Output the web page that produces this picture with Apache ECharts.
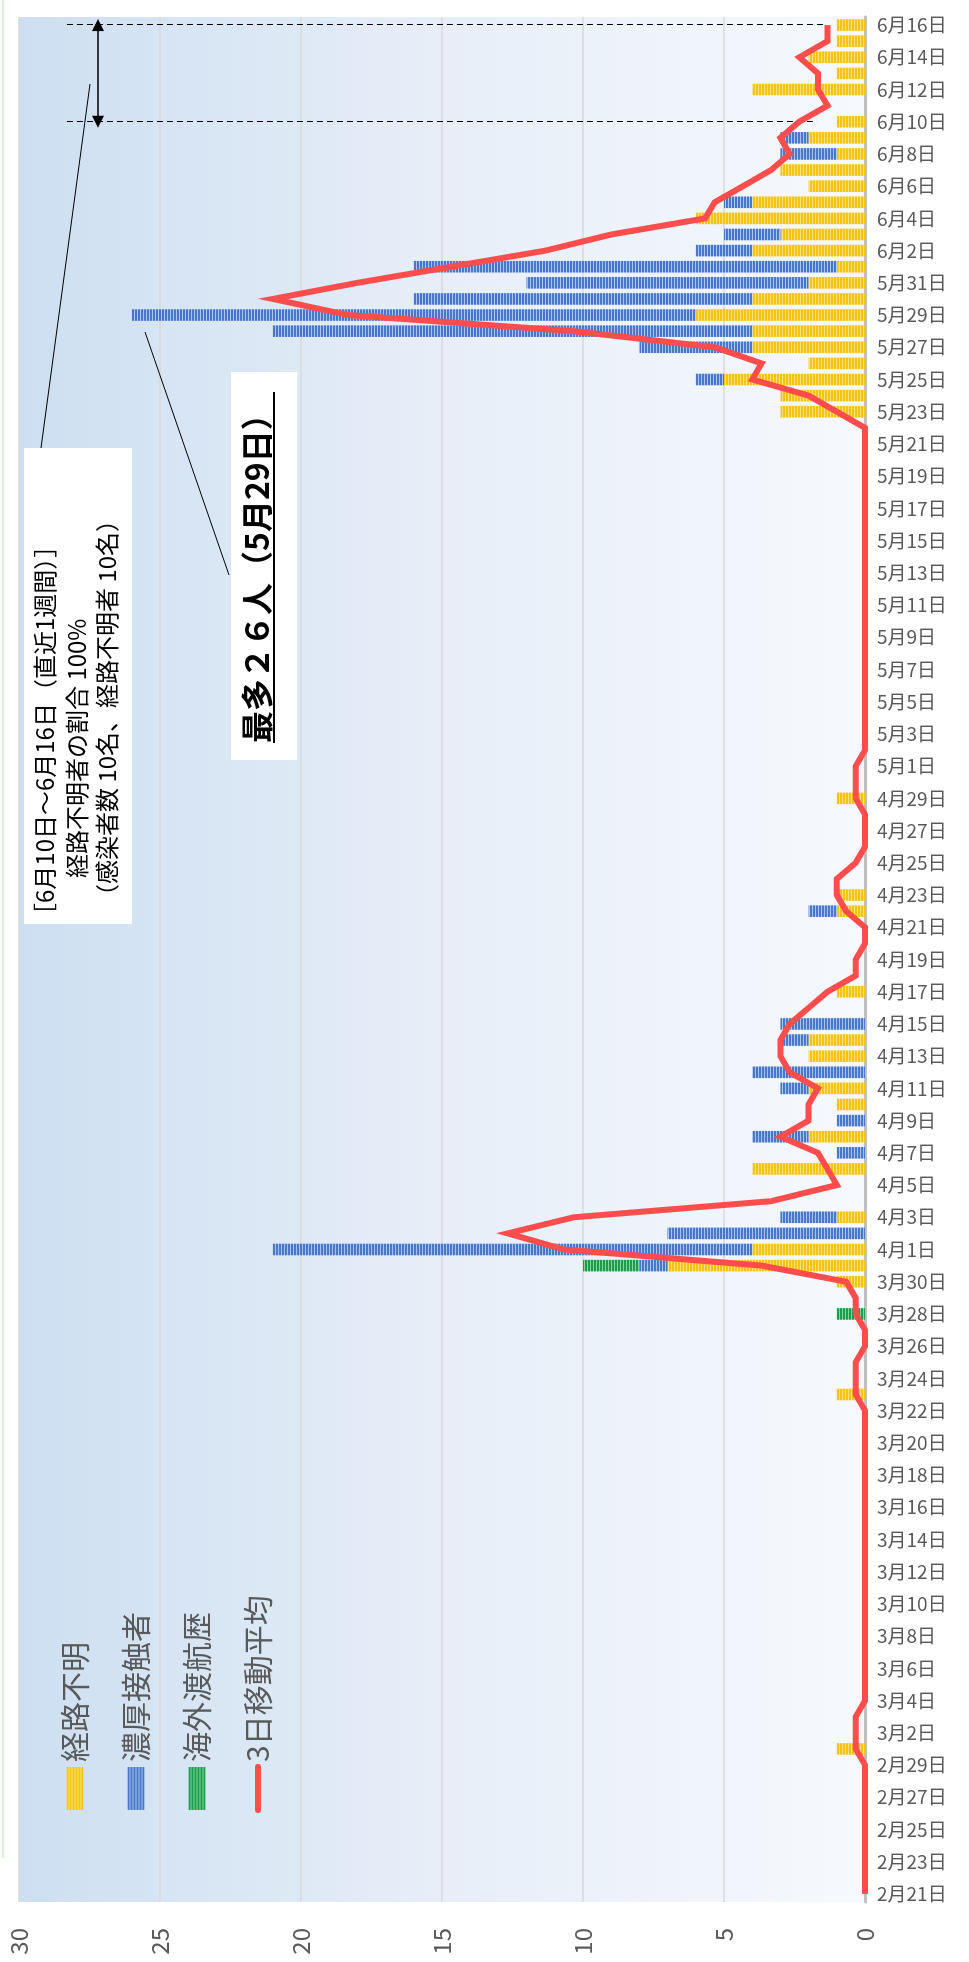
<!DOCTYPE html>
<html>
<head>
<meta charset="utf-8">
<script src="https://cdn.jsdelivr.net/npm/echarts@6/dist/echarts.min.js"></script>
<style>
html,body{margin:0;padding:0;background:#fff;overflow:hidden;width:969px;height:1962px;}
#wrap{position:absolute;left:0;top:0;width:1962px;height:969px;transform-origin:0 0;transform:translateY(1962px) rotate(-90deg);}
#chart{width:1962px;height:969px;}
</style>
</head>
<body>
<div id="wrap"><div id="chart"></div></div>
<script>
// ---- categories ----
const dates = [
 '2月21日','2月22日','2月23日','2月24日','2月25日','2月26日','2月27日','2月28日','2月29日',
 '3月1日','3月2日','3月3日','3月4日','3月5日','3月6日','3月7日','3月8日','3月9日','3月10日',
 '3月11日','3月12日','3月13日','3月14日','3月15日','3月16日','3月17日','3月18日','3月19日','3月20日',
 '3月21日','3月22日','3月23日','3月24日','3月25日','3月26日','3月27日','3月28日','3月29日','3月30日','3月31日',
 '4月1日','4月2日','4月3日','4月4日','4月5日','4月6日','4月7日','4月8日','4月9日','4月10日',
 '4月11日','4月12日','4月13日','4月14日','4月15日','4月16日','4月17日','4月18日','4月19日','4月20日',
 '4月21日','4月22日','4月23日','4月24日','4月25日','4月26日','4月27日','4月28日','4月29日','4月30日',
 '5月1日','5月2日','5月3日','5月4日','5月5日','5月6日','5月7日','5月8日','5月9日','5月10日',
 '5月11日','5月12日','5月13日','5月14日','5月15日','5月16日','5月17日','5月18日','5月19日','5月20日',
 '5月21日','5月22日','5月23日','5月24日','5月25日','5月26日','5月27日','5月28日','5月29日','5月30日','5月31日',
 '6月1日','6月2日','6月3日','6月4日','6月5日','6月6日','6月7日','6月8日','6月9日','6月10日',
 '6月11日','6月12日','6月13日','6月14日','6月15日','6月16日'
];

// ---- series values ----
// 経路不明
const unknownRoute = [
 0,0,0,0,0,0,0,0,0,
 1,0,0,0,0,0,0,0,0,0, 0,0,0,0,0,0,0,0,0,0, 0,0,1,0,0,0,0,0,0,1,7,
 4,0,1,0,0,4,0,2,0,1, 2,0,2,2,0,0,1,0,0,0, 0,1,1,0,0,0,0,0,1,0,
 0,0,0,0,0,0,0,0,0,0, 0,0,0,0,0,0,0,0,0,0, 0,0,3,3,5,2,4,4,6,4,2,
 1,4,3,6,4,2,3,1,2,1, 0,4,1,2,1,1
];
// 濃厚接触者
const closeContact = [
 0,0,0,0,0,0,0,0,0,
 0,0,0,0,0,0,0,0,0,0, 0,0,0,0,0,0,0,0,0,0, 0,0,0,0,0,0,0,0,0,0,1,
 17,7,2,0,0,0,1,2,1,0, 1,4,0,1,3,0,0,0,0,0, 0,1,0,0,0,0,0,0,0,0,
 0,0,0,0,0,0,0,0,0,0, 0,0,0,0,0,0,0,0,0,0, 0,0,0,0,1,0,4,17,20,12,10,
 15,2,2,0,1,0,0,2,1,0, 0,0,0,0,0,0
];
// 海外渡航歴
const overseas = [
 0,0,0,0,0,0,0,0,0,
 0,0,0,0,0,0,0,0,0,0, 0,0,0,0,0,0,0,0,0,0, 0,0,0,0,0,0,0,1,0,0,2,
 0,0,0,0,0,0,0,0,0,0, 0,0,0,0,0,0,0,0,0,0, 0,0,0,0,0,0,0,0,0,0,
 0,0,0,0,0,0,0,0,0,0, 0,0,0,0,0,0,0,0,0,0, 0,0,0,0,0,0,0,0,0,0,0,
 0,0,0,0,0,0,0,0,0,0, 0,0,0,0,0,0
];
// 3日移動平均
const movingAvg3 = [
 0,0,0,0,0,0,0,0,0,
 0.33,0.33,0.33,0,0,0,0,0,0,0, 0,0,0,0,0,0,0,0,0,0, 0,0,0.33,0.33,0.33,0,0,0.33,0.33,0.67,3.67,
 10.67,12.67,10.33,3.33,1,1.33,1.67,3,2,2, 1.67,2.67,3,3,2.67,2,1.33,0.33,0.33,0, 0,0.67,1,1,0.33,0,0,0,0.33,0.33,
 0.33,0,0,0,0,0,0,0,0,0, 0,0,0,0,0,0,0,0,0,0, 0,0,1,2,4,3.67,5.33,10.33,18.33,21,18,
 14.67,11.33,9,5.67,5.33,4.33,3.33,2.67,3,2.33, 1.33,1.67,1.67,2.33,1.33,1.33
];
const seriesNames = ['経路不明','濃厚接触者','海外渡航歴','3日移動平均'];
const valueMin = 0, valueMax = 30, valueStep = 5;
const weekStart = '6月10日', weekEnd = '6月16日';

function stripe(main, light) {
  const c = document.createElement('canvas');
  c.width = 4; c.height = 3;
  const g = c.getContext('2d');
  g.fillStyle = main; g.fillRect(0, 0, 4, 3);
  g.fillStyle = light; g.fillRect(0, 2, 4, 1);
  return { image: c, repeat: 'repeat' };
}
const yellowPat = stripe('#f5c312', '#fbe27e');
const bluePat = stripe('#4a78c9', '#a7c3ee');
const greenPat = stripe('#1d9d4c', '#80d89e');

const FONT = '"Noto Sans CJK JP", "Noto Sans", sans-serif';
const chart = echarts.init(document.getElementById('chart'), null, { renderer: 'canvas' });

const barCommon = { type: 'bar', stack: 'total', barCategoryGap: '28%', silent: true, emphasis: { disabled: true } };

chart.setOption({
  animation: false,
  textStyle: { fontFamily: FONT },
  grid: {
    left: 60, right: 17, top: 19, bottom: 104,
    show: true, borderWidth: 0,
    backgroundColor: new echarts.graphic.LinearGradient(0, 0, 0, 1, [
      { offset: 0, color: '#cddff1' },
      { offset: 0.5, color: '#e7eef8' },
      { offset: 1, color: '#f6f9fd' }
    ])
  },
  legend: {
    data: [
      { name: seriesNames[0], icon: 'rect' },
      { name: seriesNames[1], icon: 'rect' },
      { name: seriesNames[2], icon: 'rect' },
      { name: seriesNames[3], itemStyle: { opacity: 0 }, lineStyle: { width: 6, cap: 'round', color: '#ff4d4d' } }
    ],
    orient: 'vertical', left: 144, top: 55,
    itemWidth: 43, itemHeight: 17, itemGap: 31,
    selectedMode: false,
    textStyle: { fontSize: 30, lineHeight: 30, color: '#595959', fontFamily: FONT }
  },
  xAxis: {
    type: 'category', data: dates,
    axisLine: { show: true, lineStyle: { color: '#bfbfbf', width: 3 } },
    axisTick: { show: false },
    axisLabel: { interval: 1, rotate: -90, margin: 12, fontSize: 19, color: '#595959', fontFamily: FONT, padding: [0, 0, 10, 0] },
    splitLine: { show: false }
  },
  yAxis: {
    type: 'value', min: valueMin, max: valueMax, interval: valueStep,
    axisLine: { show: false }, axisTick: { show: false },
    axisLabel: { fontSize: 24, color: '#595959', margin: 26, fontFamily: FONT },
    splitLine: { lineStyle: { color: '#d9d9d9', width: 1.5 } }
  },
  series: [
    Object.assign({ name: seriesNames[0], data: unknownRoute, itemStyle: { color: yellowPat } }, barCommon),
    Object.assign({ name: seriesNames[1], data: closeContact, itemStyle: { color: bluePat } }, barCommon),
    Object.assign({ name: seriesNames[2], data: overseas, itemStyle: { color: greenPat } }, barCommon),
    {
      name: seriesNames[3], type: 'line', data: movingAvg3, z: 5,
      symbol: 'none', silent: true,
      itemStyle: { color: '#ff4d4d' },
      lineStyle: { color: '#ff4d4d', width: 6, join: 'miter', miterLimit: 6 },
      emphasis: { disabled: true },
      markLine: {
        silent: true, animation: false,
        label: { show: false },
        emphasis: { disabled: true },
        symbol: ['none', 'none'],
        lineStyle: { color: '#000', type: [6, 4], width: 1 },
        data: [
          [{ coord: [weekEnd, 28.3] }, { coord: [weekEnd, 1.35] }],
          [{ coord: [weekStart, 28.3] }, { coord: [weekStart, 1.7] }],
          [{ coord: [weekStart, 27.2], symbol: 'triangle', symbolSize: [12, 12], symbolRotate: 90, lineStyle: { type: 'solid', width: 1.5, color: '#000' } },
           { coord: [weekEnd, 27.2], symbol: 'triangle', symbolSize: [12, 12], symbolRotate: -90 }]
        ]
      }
    }
  ],
  graphic: [
    { type: 'line', shape: { x1: 104, y1: 3, x2: 1962, y2: 3 }, style: { stroke: '#c9f2c9', lineWidth: 1.5 }, silent: true },
    // box: last week
    { type: 'rect', shape: { x: 1038, y: 24, width: 476, height: 108 }, style: { fill: '#fff' }, z: 10, silent: true },
    { type: 'text', x: 1035, y: 45, style: { text: '［6月10日～6月16日（直近1週間）］', fill: '#000', font: '24px ' + FONT, textVerticalAlign: 'middle' }, z: 11, silent: true },
    { type: 'text', x: 1084, y: 77, style: { text: '経路不明者の割合 100%', fill: '#000', font: '24px ' + FONT, textVerticalAlign: 'middle' }, z: 11, silent: true },
    { type: 'text', x: 1054, y: 107, style: { text: '（感染者数 10名、経路不明者 10名）', fill: '#000', font: '24px ' + FONT, textVerticalAlign: 'middle' }, z: 11, silent: true },
    { type: 'line', shape: { x1: 1514, y1: 41, x2: 1878, y2: 90 }, style: { stroke: '#000', lineWidth: 1 }, z: 11, silent: true },
    // box: max
    { type: 'rect', shape: { x: 1202, y: 231, width: 388, height: 66 }, style: { fill: '#fff' }, z: 10, silent: true },
    { type: 'text', x: 1219, y: 257, style: { text: '最多２６人（5月29日）', fill: '#000', font: 'bold 32px ' + FONT, textVerticalAlign: 'middle' }, z: 11, silent: true },
    { type: 'line', shape: { x1: 1219, y1: 274, x2: 1570, y2: 274 }, style: { stroke: '#000', lineWidth: 2 }, z: 11, silent: true },
    { type: 'line', shape: { x1: 1387, y1: 229, x2: 1630, y2: 145 }, style: { stroke: '#000', lineWidth: 1 }, z: 11, silent: true }
  ]
});
</script>
</body>
</html>
